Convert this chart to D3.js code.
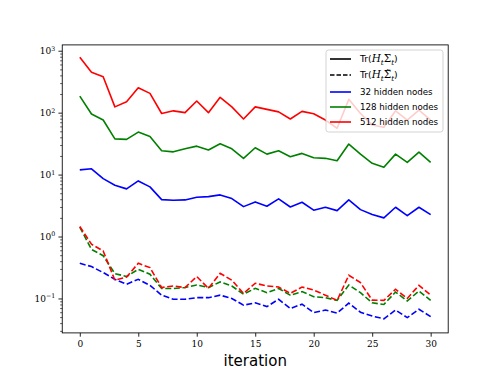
<!DOCTYPE html>
<html><head><meta charset="utf-8">
<script src="https://cdn.jsdelivr.net/npm/d3@7"></script>
<style>body{margin:0;background:#fff}svg{display:block}</style>
</head><body>
<script>
const iterations = [0,1,2,3,4,5,6,7,8,9,10,11,12,13,14,15,16,17,18,19,20,21,22,23,24,25,26,27,28,29,30];
const xTicks = [0,5,10,15,20,25,30];
const yTicks = [0.1,1,10,100,1000];
const yTickExp = ["\u22121","0","1","2","3"];
const seriesNames = ["32 hidden nodes","128 hidden nodes","512 hidden nodes"];
const seriesColors = ["#0000ff","#008000","#ff0000"];
const trBlue = [11.9,12.4,8.6,6.74,5.88,7.9,6.33,3.94,3.86,3.9,4.31,4.41,4.7,4.1,3.04,3.62,3.08,4.05,3.0,3.58,2.66,2.97,2.62,3.9,2.72,2.26,2.0,2.97,2.18,2.97,2.26];
const trGreen = [185,95,76,37.8,37,48.6,41.4,24.2,23.3,26.1,28.8,24.9,31.5,26.1,18.3,27.1,21.4,24.2,19.4,22,18.7,18.3,16.7,31.1,21.4,15.2,13.1,21.4,15.7,23.1,15.7];
const trRed = [782,448,380,124,150,252,205,97,107,100,154,100,177,124,79,124,113,103,79,105,96,76,56,164,97,63,58,107,76,110,76];
const trTildeBlue = [0.37,0.327,0.262,0.204,0.17,0.204,0.163,0.113,0.097,0.097,0.103,0.103,0.113,0.1,0.078,0.085,0.074,0.097,0.069,0.081,0.059,0.065,0.058,0.084,0.06,0.052,0.047,0.065,0.049,0.067,0.051];
const trTildeGreen = [1.42,0.62,0.49,0.252,0.226,0.296,0.246,0.145,0.145,0.15,0.165,0.15,0.185,0.159,0.117,0.146,0.124,0.145,0.113,0.129,0.107,0.103,0.093,0.165,0.124,0.085,0.08,0.127,0.091,0.132,0.093];
const trTildeRed = [1.45,0.75,0.585,0.197,0.222,0.37,0.315,0.15,0.159,0.15,0.226,0.145,0.255,0.197,0.121,0.176,0.159,0.153,0.121,0.153,0.137,0.113,0.093,0.237,0.18,0.094,0.093,0.141,0.10,0.163,0.113];

const W = 498, H = 374;
const L = 62.25, R = 448.2, T = 44.9, B = 332.9;
const svg = d3.select("body").append("svg").attr("width", W).attr("height", H);

const x = d3.scaleLinear().domain([-1.5, 31.5]).range([L, R]);
const y = d3.scaleLog().domain([Math.pow(10,-1.556), Math.pow(10,3.094)]).range([B, T]);

const serif = "'DejaVu Serif', serif";
const sans = "'DejaVu Sans', sans-serif";

// lines
const line = d3.line().x((d,i) => x(iterations[i])).y(d => y(d));
const solid = [trBlue, trGreen, trRed];
const dashed = [trTildeBlue, trTildeGreen, trTildeRed];
const g = svg.append("g");
for (let k = 0; k < 3; k++) {
  g.append("path").attr("d", line(solid[k])).attr("fill","none")
    .attr("stroke", seriesColors[k]).attr("stroke-width",1.6).attr("stroke-linejoin","round");
}
for (let k = 0; k < 3; k++) {
  g.append("path").attr("d", line(dashed[k])).attr("fill","none")
    .attr("stroke", seriesColors[k]).attr("stroke-width",1.6).attr("stroke-dasharray","6,2.6");
}

// axes
const xAxis = svg.append("g").attr("transform", `translate(0,${B})`)
  .call(d3.axisBottom(x).tickValues(xTicks).tickSize(3.8).tickPadding(3.5).tickFormat(d3.format("d")));
xAxis.select(".domain").remove();
xAxis.selectAll("text").attr("font-family", serif).attr("font-size", 9).attr("fill","#000");
xAxis.selectAll("line").attr("stroke","#000").attr("stroke-width",0.86);

const minor = [];
for (let e = -2; e <= 3; e++) for (let m = 2; m <= 9; m++) {
  const v = m * Math.pow(10, e);
  if (v >= y.domain()[0] && v <= y.domain()[1]) minor.push(v);
}
const yMinor = svg.append("g").attr("transform", `translate(${L},0)`)
  .call(d3.axisLeft(y).tickValues(minor).tickSize(2.1).tickFormat(""));
yMinor.select(".domain").remove();
yMinor.selectAll("line").attr("stroke","#000").attr("stroke-width",0.65);

const yAxis = svg.append("g").attr("transform", `translate(${L},0)`)
  .call(d3.axisLeft(y).tickValues(yTicks).tickSize(3.8).tickPadding(3.5).tickFormat(""));
yAxis.select(".domain").remove();
yAxis.selectAll("line").attr("stroke","#000").attr("stroke-width",0.86);
yAxis.selectAll(".tick").each(function(d, i) {
  const t = d3.select(this).append("text").attr("x", -7).attr("dy","0.32em")
    .attr("text-anchor","end").attr("font-family", serif).attr("font-size", 9).attr("fill","#000");
  t.append("tspan").text("10");
  t.append("tspan").attr("font-size", 6.3).attr("dy","-0.55em").text(yTickExp[i]);
});

svg.append("rect").attr("x", L).attr("y", T).attr("width", R-L).attr("height", B-T)
  .attr("fill","none").attr("stroke","#000").attr("stroke-width",0.86);

// x label
svg.append("text").attr("x", (L+R)/2).attr("y", 366).attr("text-anchor","middle")
  .attr("font-family", sans).attr("font-size", 15).attr("fill","#000").text("iteration");

// legend
const lg = svg.append("g");
lg.append("rect").attr("x", 326).attr("y", 50).attr("width", 117).attr("height", 82)
  .attr("rx", 2.5).attr("fill","#fff").attr("fill-opacity",0.8).attr("stroke","#cccccc").attr("stroke-width",0.86);
const rowsY = [59, 75, 92, 107, 122];
const handleColors = ["#000","#000", seriesColors[0], seriesColors[1], seriesColors[2]];
rowsY.forEach((ry, i) => {
  lg.append("line").attr("x1", 330).attr("x2", 351).attr("y1", ry).attr("y2", ry)
    .attr("stroke", handleColors[i]).attr("stroke-width",1.6)
    .attr("stroke-dasharray", i === 1 ? "4.5,2" : null);
});
function trLabel(ry, tilde) {
  const t = lg.append("text").attr("x", 360).attr("y", ry).attr("dy","0.35em")
    .attr("font-family", sans).attr("font-size", 9.2).attr("fill","#000");
  t.append("tspan").text("Tr(");
  t.append("tspan").attr("font-family", serif).attr("font-style","italic").attr("font-size",10.5).text("H");
  t.append("tspan").attr("font-family", serif).attr("font-style","italic").attr("font-size",7.2).attr("dy","2.5").text("t");
  t.append("tspan").attr("font-family", serif).attr("font-size",10.5).attr("dy","-2.5").text(tilde ? "\u03A3\u0303" : "\u03A3");
  t.append("tspan").attr("font-family", serif).attr("font-style","italic").attr("font-size",7.2).attr("dy","2.5").text("t");
  t.append("tspan").attr("dy","-2.5").text(")");
}
trLabel(rowsY[0], false);
trLabel(rowsY[1], true);
seriesNames.forEach((n, k) => {
  lg.append("text").attr("x", 360).attr("y", rowsY[k+2]).attr("dy","0.35em")
    .attr("font-family", sans).attr("font-size", 8.7).attr("fill","#000").text(n);
});
</script>
</body></html>
